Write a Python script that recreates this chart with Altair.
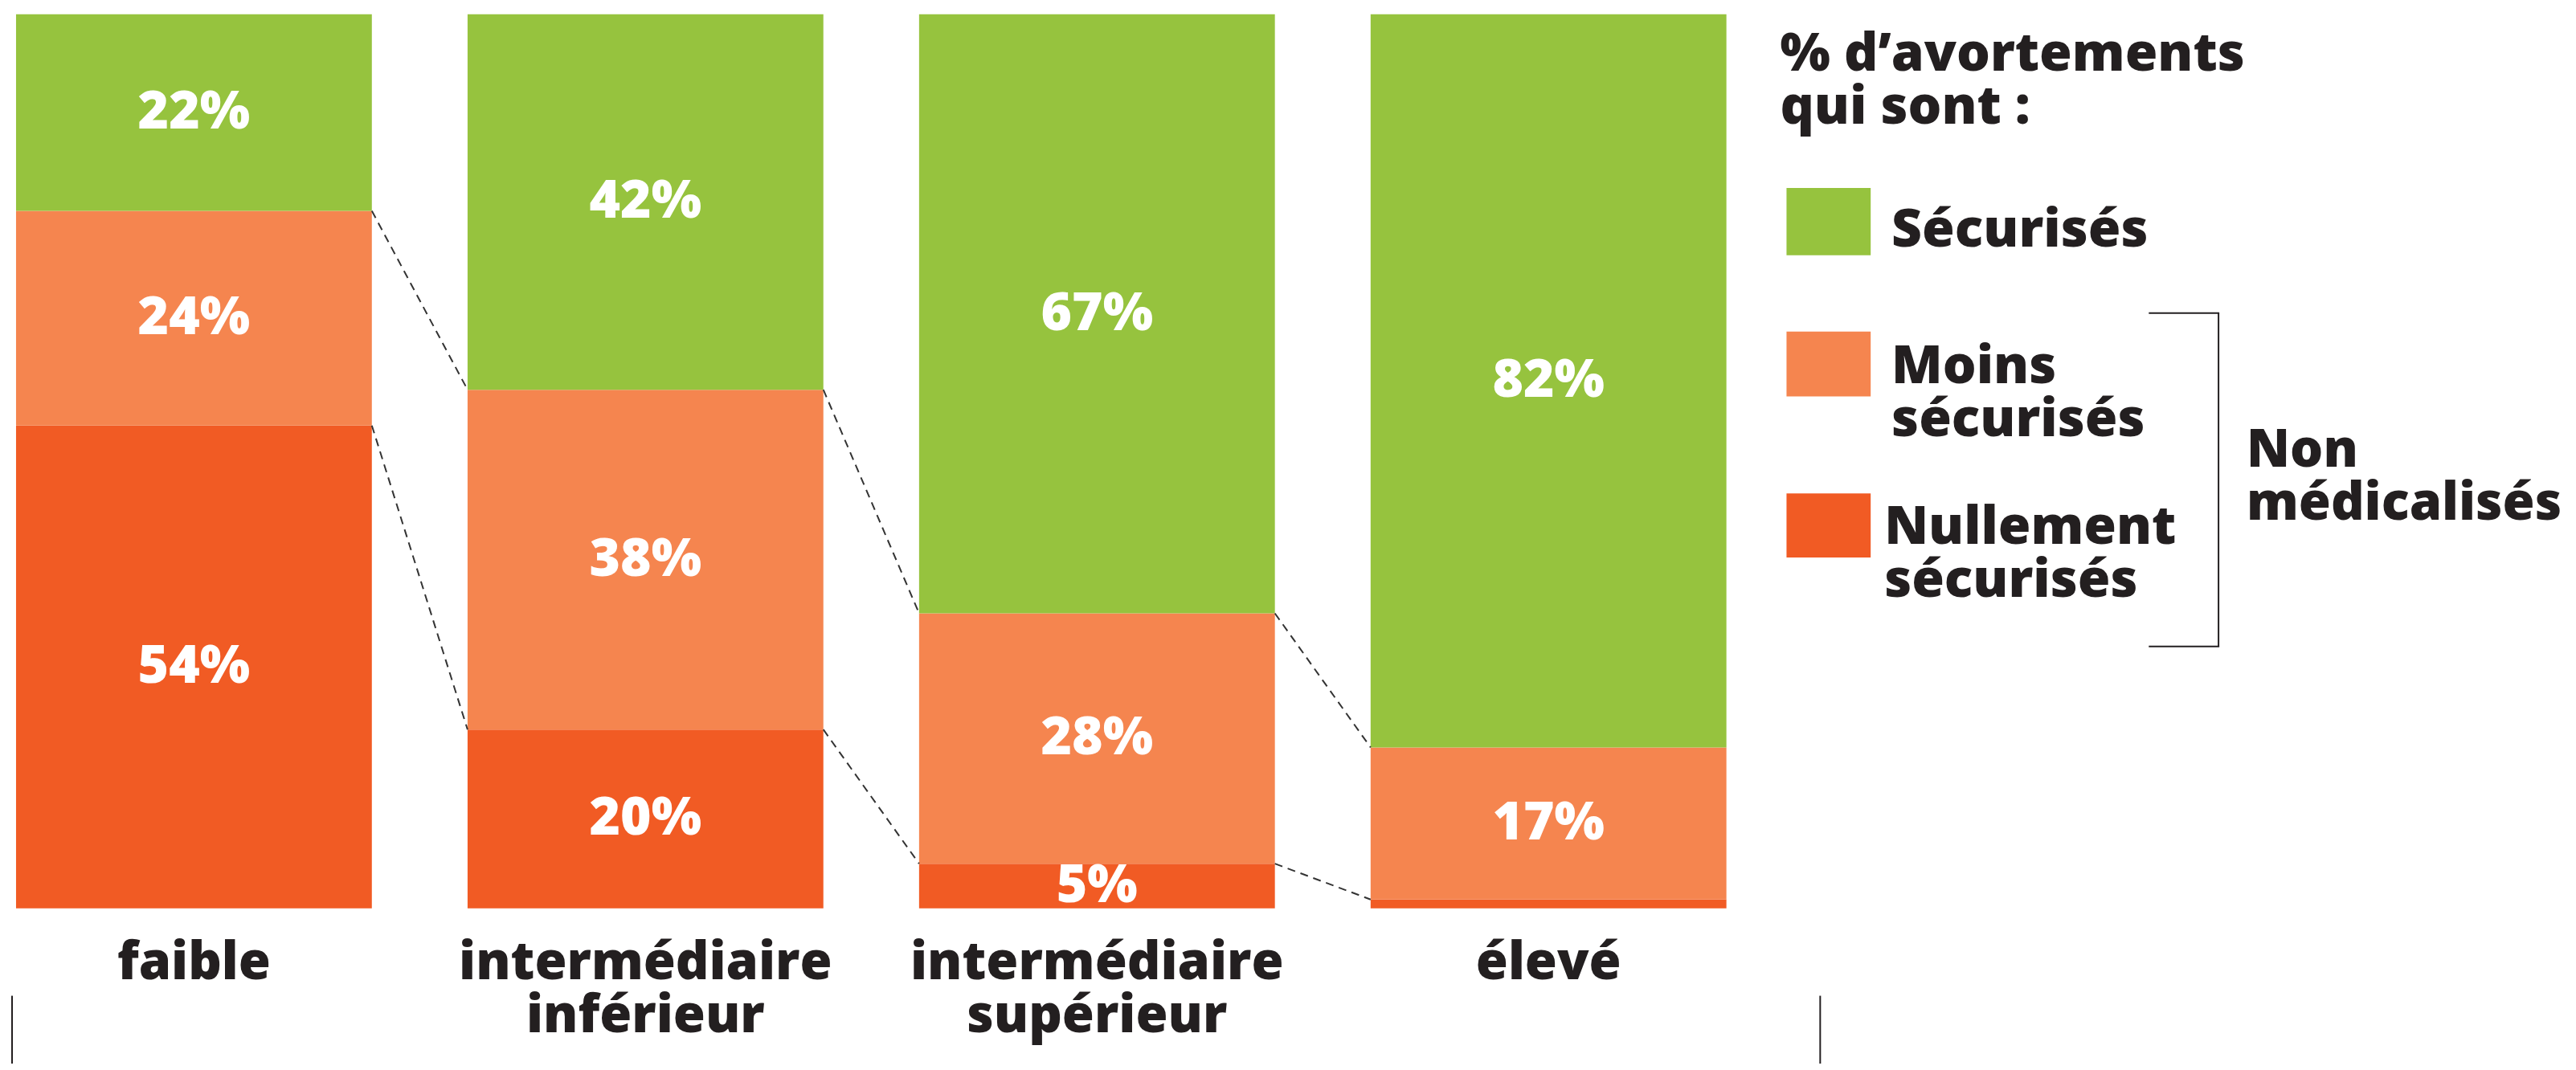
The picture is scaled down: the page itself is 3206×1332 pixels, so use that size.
import altair as alt
import pandas as pd

categories = ["faible", "intermédiaire inférieur", "intermédiaire supérieur", "élevé"]
cat_labels = ["faible", "intermédiaire\ninférieur", "intermédiaire\nsupérieur", "élevé"]
securises = [22, 42, 67, 82]
moins_securises = [24, 38, 28, 17]
nullement_securises = [54, 20, 5, 1]
series_names = ["Nullement sécurisés", "Moins sécurisés", "Sécurisés"]
series_colors = ["#F15B24", "#F5854F", "#96C33E"]

TEXT = "#231F20"
FONT = "Open Sans"

rows = []
for i, c in enumerate(categories):
    n, m, s = nullement_securises[i], moins_securises[i], securises[i]
    for name, lo, hi, v in [
        (series_names[0], 0, n, n),
        (series_names[1], n, n + m, m),
        (series_names[2], n + m, n + m + s, s),
    ]:
        rows.append({"cat": c, "series": name, "y0": lo, "y1": hi,
                     "mid": (lo + hi) / 2, "label": f"{v}%" if v >= 5 else ""})
bars_df = pd.DataFrame(rows)

conn = []
for i in range(len(categories) - 1):
    conn.append({"from": categories[i], "to": categories[i + 1],
                 "ya": nullement_securises[i] + moins_securises[i],
                 "yb": nullement_securises[i + 1] + moins_securises[i + 1]})
    conn.append({"from": categories[i], "to": categories[i + 1],
                 "ya": nullement_securises[i], "yb": nullement_securises[i + 1]})
conn_df = pd.DataFrame(conn)

lab_df = pd.DataFrame({"cat": categories, "label": cat_labels})

xscale = alt.Scale(domain=categories, range=[12, 2146], paddingInner=0.212, paddingOuter=0)
yscale = alt.Scale(domain=[0, 100], range=[1124, 8])
cscale = alt.Scale(domain=series_names, range=series_colors)

bars = alt.Chart(bars_df).mark_bar().encode(
    x=alt.X("cat:N", scale=xscale, axis=None, sort=categories),
    y=alt.Y("y0:Q", scale=yscale, axis=None),
    y2="y1:Q",
    color=alt.Color("series:N", scale=cscale, legend=None),
)

pct = alt.Chart(bars_df).mark_text(
    font=FONT, fontSize=66, fontWeight=800, color="white", baseline="middle", align="center"
).encode(
    x=alt.X("cat:N", scale=xscale, axis=None, sort=categories),
    y=alt.Y("mid:Q", scale=yscale, axis=None),
    text="label:N",
)

rules = alt.Chart(conn_df).mark_rule(
    color="#333333", strokeWidth=2, strokeDash=[10, 7]
).encode(
    x=alt.X("from:N", scale=xscale, axis=None, sort=categories, bandPosition=1),
    x2=alt.X2("to:N", bandPosition=0),
    y=alt.Y("ya:Q", scale=yscale, axis=None),
    y2="yb:Q",
)

cat_text = alt.Chart(lab_df).mark_text(
    font=FONT, fontSize=65, fontWeight=800, color=TEXT, baseline="alphabetic",
    align="center", lineBreak="\n", lineHeight=67
).encode(
    x=alt.X("cat:N", scale=xscale, axis=None, sort=categories),
    y=alt.value(1212),
    text="label:N",
)

vlines = [
    alt.Chart(lab_df.head(1)).mark_rule(color=TEXT, strokeWidth=2).encode(
        x=alt.value(xv), y=alt.value(1233), y2=alt.value(1324))
    for xv in [7, 2263]
]

def txt(s, x, y, size=66):
    return alt.Chart(pd.DataFrame({"t": [s]})).mark_text(
        font=FONT, fontSize=size, fontWeight=800, color=TEXT, align="left",
        baseline="alphabetic", lineBreak="\n", lineHeight=66
    ).encode(x=alt.value(x), y=alt.value(y), text="t:N")

legend_layers = [
    txt("% d’avortements\nqui sont :", 2213, 79),
    txt("Sécurisés", 2352, 298),
    txt("Moins\nsécurisés", 2352, 469),
    txt("Nullement\nsécurisés", 2343, 669),
    txt("Non\nmédicalisés", 2795, 573, 65),
]

swatch_pos = [(2, 225, 309), (1, 404, 485), (0, 606, 686)]
swatches = []
for idx, y0, y1 in swatch_pos:
    swatches.append(
        alt.Chart(pd.DataFrame({"series": [series_names[idx]]})).mark_rect().encode(
            x=alt.value(2221), x2=alt.value(2326), y=alt.value(y0), y2=alt.value(y1),
            color=alt.Color("series:N", scale=cscale, legend=None),
        )
    )

one = pd.DataFrame({"a": [0]})
bracket = [
    alt.Chart(one).mark_rule(color=TEXT, strokeWidth=2).encode(
        x=alt.value(2673), x2=alt.value(2761), y=alt.value(381)),
    alt.Chart(one).mark_rule(color=TEXT, strokeWidth=2).encode(
        x=alt.value(2673), x2=alt.value(2761), y=alt.value(797)),
    alt.Chart(one).mark_rule(color=TEXT, strokeWidth=2).encode(
        x=alt.value(2760), y=alt.value(381), y2=alt.value(797)),
]

chart = alt.layer(
    bars, rules, pct, cat_text, *vlines, *legend_layers, *swatches, *bracket
).properties(
    width=3198, height=1316, autosize=alt.AutoSizeParams(type="none"), padding=0
).configure_view(stroke=None)

chart.save("out.html", embed_options={"renderer": "svg", "actions": False})
